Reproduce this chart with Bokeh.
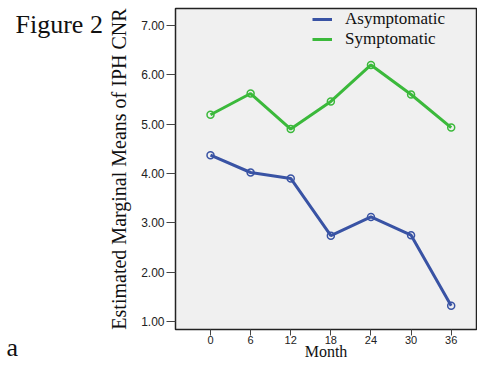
from bokeh.plotting import figure
from bokeh.models import Label, Legend, LegendItem, FixedTicker, PrintfTickFormatter, Range1d
from bokeh.embed import file_html
from bokeh.resources import INLINE

months = [0, 6, 12, 18, 24, 30, 36]
asymptomatic = [4.37, 4.02, 3.90, 2.74, 3.12, 2.75, 1.32]
symptomatic = [5.19, 5.62, 4.90, 5.46, 6.20, 5.60, 4.93]
y_ticks = [1, 2, 3, 4, 5, 6, 7]
x_ticks = [0, 6, 12, 18, 24, 30, 36]

BLUE = "#3953A4"
GREEN = "#3BB93B"
SERIF = "Liberation Serif"
SANS = "Liberation Sans"

W, H = 477, 362
FL, FR, FT, FB = 175, 476, 8, 330          # frame edges in canvas px
PX_X = 6.686                               # px per month
PX_Y = 49.5                                # px per unit
X0 = 0 - (210 - FL) / PX_X
X1 = X0 + (FR - FL) / PX_X
Y1 = 7 + (25 - FT) / PX_Y
Y0 = Y1 - (FB - FT) / PX_Y


def dx(px):
    return X0 + (px - FL) / PX_X


def dy(py):
    return Y1 - (py - FT) / PX_Y


p = figure(width=W, height=H, output_backend="svg", toolbar_location=None,
           x_range=Range1d(X0, X1), y_range=Range1d(Y0, Y1),
           min_border_left=FL, min_border_right=W - FR, min_border_top=FT,
           min_border_bottom=H - FB)
p.background_fill_color = "#F0F0F0"
p.border_fill_color = "white"
p.outline_line_color = "#222222"
p.outline_line_width = 1.5
p.grid.visible = False

for ax in (p.xaxis[0], p.yaxis[0]):
    ax.axis_line_color = None
    ax.major_tick_in = 0
    ax.major_tick_line_color = "#444444"
    ax.minor_tick_line_color = None
    ax.major_label_text_font = SANS
    ax.major_label_text_color = "#222222"
    ax.axis_label_text_font = SERIF
    ax.axis_label_text_font_style = "normal"
    ax.axis_label_text_color = "#111111"

p.xaxis.ticker = FixedTicker(ticks=x_ticks)
p.yaxis.ticker = FixedTicker(ticks=y_ticks)
p.yaxis.formatter = PrintfTickFormatter(format="%.2f")
p.yaxis.major_label_text_font_size = "12px"
p.xaxis.major_label_text_font_size = "11px"
p.yaxis.major_tick_out = 9
p.xaxis.major_tick_out = 6
p.xaxis.major_label_standoff = 0
p.yaxis.major_label_standoff = 2

p.yaxis.axis_label = "Estimated Marginal Means of IPH CNR"
p.yaxis.axis_label_text_font_size = "20px"
p.yaxis.axis_label_standoff = 8

p.xaxis.axis_label = "Month"
p.xaxis.axis_label_text_font_size = "16px"
p.xaxis.axis_label_standoff = -4

l1 = p.line(months, asymptomatic, line_color=BLUE, line_width=3)
p.scatter(months, asymptomatic, marker="circle", size=7, line_color=BLUE, line_width=1.5, fill_alpha=0)
l2 = p.line(months, symptomatic, line_color=GREEN, line_width=3)
p.scatter(months, symptomatic, marker="circle", size=7, line_color=GREEN, line_width=1.5, fill_alpha=0)

legend = Legend(items=[LegendItem(label="Asymptomatic", renderers=[l1]),
                       LegendItem(label="Symptomatic", renderers=[l2])],
                location=(312 - FL, FB - 10 - 40))
legend.background_fill_alpha = 0
legend.border_line_color = None
legend.label_text_font = SERIF
legend.label_text_font_size = "17px"
legend.label_text_color = "#111111"
legend.glyph_width = 20
legend.glyph_height = 20
legend.label_height = 20
legend.label_standoff = 13
legend.spacing = 0
legend.padding = 0
legend.margin = 0
p.add_layout(legend)

# side-panel labels render about 8px lower than the frame scale suggests
p.add_layout(Label(x=dx(15), y=dy(32 - 8), text="Figure 2",
                   text_font=SERIF, text_font_size="26px", text_color="#111111",
                   text_baseline="alphabetic", text_align="left"), "left")
p.add_layout(Label(x=dx(6), y=dy(356 - 8), text="a",
                   text_font=SERIF, text_font_size="26px", text_color="#111111",
                   text_baseline="alphabetic", text_align="left"), "left")

open("out.html", "w").write(file_html(p, INLINE))
